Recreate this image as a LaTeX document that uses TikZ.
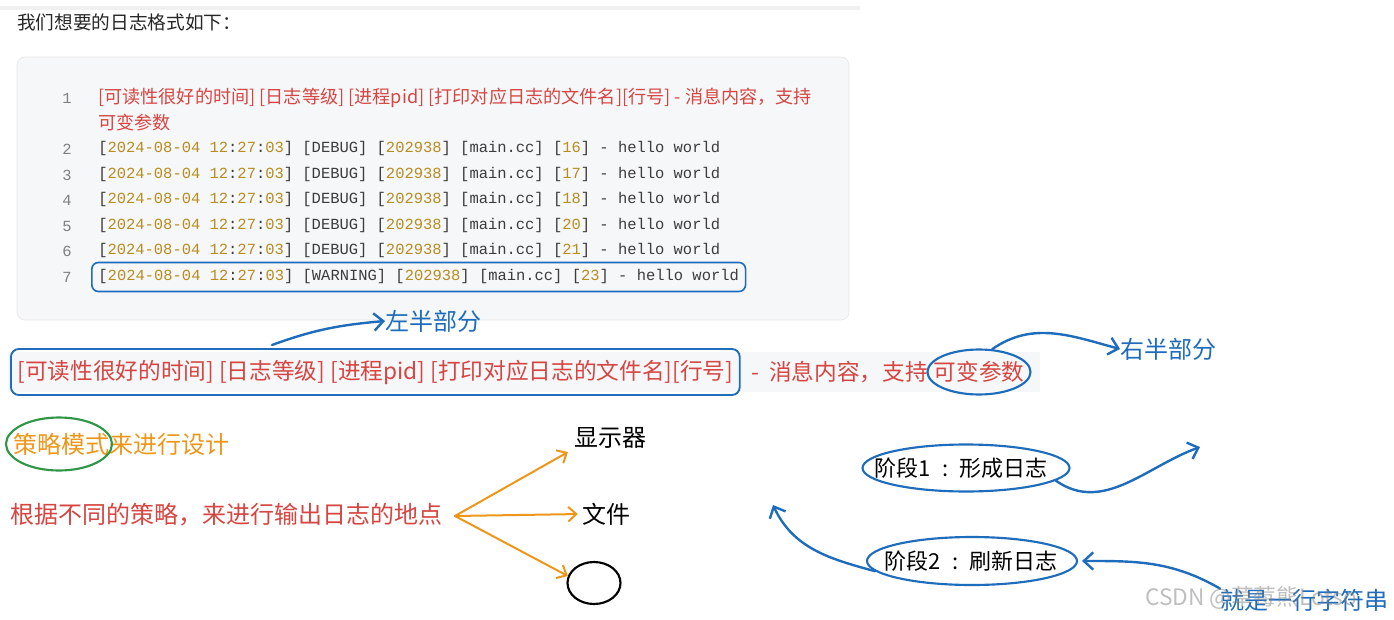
\documentclass[tikz,border=0pt]{standalone}
\usepackage{fontspec}
\setmainfont{Noto Sans CJK SC}
\setmonofont{Liberation Mono}
\definecolor{PenBlue}{RGB}{30,108,188}
\definecolor{MarkRed}{RGB}{214,69,65}
\definecolor{CodeGold}{RGB}{184,140,30}
\definecolor{CodeInk}{RGB}{60,60,60}
\definecolor{CodeBg}{RGB}{246,247,249}
\definecolor{PenOrange}{RGB}{238,150,25}
\definecolor{PenGreen}{RGB}{46,150,70}
\usetikzlibrary{arrows.meta,positioning,shapes.geometric}
\newcommand\gold[1]{\textcolor{CodeGold}{#1}}

\begin{document}
\begin{tikzpicture}[x=0.75pt,y=0.75pt,
  code/.style={anchor=west,inner sep=0pt,font=\ttfamily\fontsize{11.6}{14}\selectfont,text=CodeInk},
  lnum/.style={anchor=west,inner sep=0pt,font=\ttfamily\fontsize{11.6}{14}\selectfont,text=gray},
  redline/.style={anchor=west,inner sep=0pt,text=MarkRed,font=\fontsize{17}{20}\selectfont},
  hand/.style={anchor=west,inner sep=0pt,font=\fontsize{18}{20}\selectfont},
  oval/.style={draw,ellipse,line width=1.6pt,inner sep=0pt},
  pen/.style={PenBlue,line width=1.8pt,line cap=round,-{Straight Barb[length=7pt,width=13pt]}},
  fan/.style={PenOrange,line width=1.5pt,line cap=round,-{Straight Barb[length=6pt,width=11pt]}}]
\useasboundingbox (0,0) rectangle (1394,-620);
\fill[black!6] (0,-6) rectangle (860,-10);
\node[anchor=west,inner sep=0pt,font=\fontsize{14}{16}\selectfont,text=black!85] (title) at (17,-22) {我们想要的日志格式如下：};
% code block
\draw[black!10,fill=CodeBg,rounded corners=6pt] (17,-57) rectangle (849,-320);
\foreach \n/\y in {1/98,2/149,3/175,4/200,5/226,6/251,7/277}
  \node[lnum] (n\n) at (62,-\y) {\n};
\node[anchor=west,inner sep=0pt,text=MarkRed,font=\fontsize{13.6}{16}\selectfont] (l1) at (98,-98) {[可读性很好的时间] [日志等级] [进程pid] [打印对应日志的文件名][行号] - 消息内容，支持};
\node[anchor=west,inner sep=0pt,text=MarkRed,font=\fontsize{13.6}{16}\selectfont] (l1b) at (98,-123) {可变参数};
\foreach \n/\k/\y in {2/16/149,3/17/175,4/18/200,5/20/226,6/21/251}
  \node[code] (l\n) at (98,-\y) {[\gold{2024-08-04 12}:\gold{27}:\gold{03}] [DEBUG] [\gold{202938}] [main.cc] [\gold{\k}] - hello world};
\node[code,draw=PenBlue,line width=1.2pt,rounded corners=5pt,inner xsep=5pt,minimum height=21.75pt] (l7) at (91,-277) {[\gold{2024-08-04 12}:\gold{27}:\gold{03}] [WARNING] [\gold{202938}] [main.cc] [\gold{23}] - hello world};
% format line
\fill[CodeBg] (8,-352) rectangle (1040,-392);
\node[redline,draw=PenBlue,line width=1.4pt,rounded corners=6pt,inner xsep=5pt,minimum height=34.5pt] (lefthalf) at (10,-372) {[可读性很好的时间] [日志等级] [进程pid] [打印对应日志的文件名][行号]};
\node[redline] (msg) at (751,-372) {-\ \ 消息内容，支持};
\node[redline,anchor=center] (varargs) at (979,-372) {可变参数};
\node[oval,PenBlue,minimum width=77.25pt,minimum height=33.75pt] (varoval) at (varargs) {};
% left / right half
\coordinate (lstart) at (272,-345);
\node[hand,text=PenBlue] (lefttag) at (385,-321) {左半部分};
\draw[pen] (lstart) to[out=20,in=185] (lefttag.west);
\node[hand,text=PenBlue] (righttag) at (1120,-349) {右半部分};
\draw[pen] (varoval.60) to[out=35,in=165] (righttag.west);
% strategy
\node[hand,text=PenOrange] (strategy) at (13,-444) {策略模式};
\node[hand,text=PenOrange,right=0pt of strategy] (design) {来进行设计};
\node[oval,draw=PenGreen,minimum width=79.5pt,minimum height=39.75pt] (stratoval) at (59,-444) {};
\node[hand,text=MarkRed] (where) at (10,-515) {根据不同的策略，来进行输出日志的地点};
\coordinate (fork) at (455,-516);
\node[hand,anchor=center] (screen) at (610,-438) {显示器};
\node[hand,anchor=center] (file) at (606,-514) {文件};
\node[oval,draw=black,minimum width=39.75pt,minimum height=31.5pt] (other) at (594,-583) {};
\draw[fan,shorten >=5pt] (fork) -- (screen.south west);
\draw[fan,shorten >=3pt] (fork) -- (file.west);
\draw[fan] (fork) -- (other.165);
% stages
\node[anchor=center,inner sep=0pt,font=\fontsize{16.5}{18}\selectfont] (stage1) at (961,-468) {阶段1\hspace{0.5em}:\hspace{0.5em}形成日志};
\node[oval,draw=PenBlue,minimum width=155.25pt,minimum height=35.25pt] (stage1oval) at (966,-468) {};
\node[anchor=center,inner sep=0pt,font=\fontsize{16.5}{18}\selectfont] (stage2) at (971,-561) {阶段2\hspace{0.5em}:\hspace{0.5em}刷新日志};
\node[oval,draw=PenBlue,minimum width=157.5pt,minimum height=36pt] (stage2oval) at (972,-561) {};
\coordinate (s1end) at (1200,-447);
\draw[pen] (stage1oval.-8) to[out=-35,in=200] (s1end);
\coordinate (s2end) at (773,-505);
\draw[pen] (stage2oval.186) to[out=165,in=-65] (s2end);
\node[hand,text=PenBlue] (onestr) at (1220,-600) {就是一行字符串};
\draw[pen,shorten >=3pt] (onestr.north west) to[out=150,in=0] (stage2oval.east);
\node[anchor=west,inner sep=0pt,text=gray,opacity=0.5,font=\fontsize{17}{20}\selectfont] (mark) at (1145,-598) {CSDN @草莓熊Lotso};
\end{tikzpicture}
\end{document}
